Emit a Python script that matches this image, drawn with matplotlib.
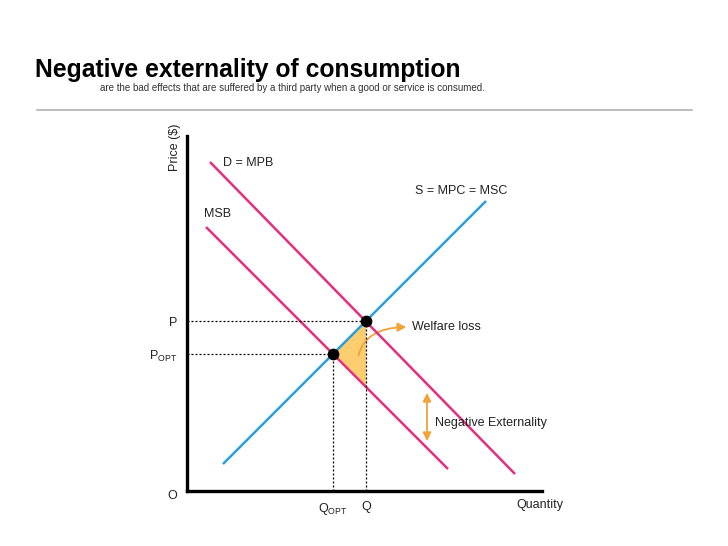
import matplotlib.pyplot as plt
from matplotlib.patches import FancyArrowPatch

# curves (quantity, price in arbitrary units)
supply_q = [36, 299]
supply_p = [27, 290]
msb_q = [19, 261]
msb_p = [264, 22]
mpb_q = [23, 328]
mpb_p = [329, 17]

q_opt, p_opt = 146, 137
q_mkt, p_mkt = 179, 170
loss_q = [146, 179, 179]
loss_p = [137, 170, 104]

W, H = 728, 546
PINK = '#e2307e'
BLUE = '#2b9fdc'
ORANGE = '#f2a33a'
FILL = '#fdcd70'
TXT = '#222222'

plt.rcParams['font.family'] = ['Liberation Sans', 'DejaVu Sans']

fig = plt.figure(figsize=(W / 100, H / 100), dpi=100)


def fx(px):
    return px / W


def fy(py):
    return 1 - py / H


# header
fig.text(fx(35), fy(77), 'Negative externality of consumption', fontsize=17.8,
         fontweight='bold', va='baseline', ha='left')
fig.text(fx(100), fy(88), 'are the bad effects that are suffered by a third party '
         'when a good or service is consumed.', fontsize=7, color='#333333',
         va='center', ha='left')
fig.add_artist(plt.Line2D([fx(37), fx(692)], [fy(110), fy(110)],
                          color='#aaaaaa', lw=1.1))

ax = fig.add_axes([fx(187), fy(491), fx(542) - fx(187), fy(136) - fy(491)])
ax.set_xlim(0, 355)
ax.set_ylim(0, 355)
for s in ['top', 'right']:
    ax.spines[s].set_visible(False)
for s in ['left', 'bottom']:
    ax.spines[s].set_linewidth(2.4)

ax.plot(supply_q, supply_p, color=BLUE, lw=1.8, solid_capstyle='butt')
ax.plot(msb_q, msb_p, color=PINK, lw=1.8, solid_capstyle='butt')
ax.plot(mpb_q, mpb_p, color=PINK, lw=1.8, solid_capstyle='butt')
ax.fill(loss_q, loss_p, color=FILL, lw=0, zorder=1)

dots = dict(color='black', lw=0.9, ls=(0, (1.6, 1.6)))
ax.plot([0, q_mkt], [p_mkt, p_mkt], **dots)
ax.plot([0, q_opt], [p_opt, p_opt], **dots)
ax.plot([q_mkt, q_mkt], [0, p_mkt], **dots)
ax.plot([q_opt, q_opt], [0, p_opt], **dots)
ax.scatter([q_opt, q_mkt], [p_opt, p_mkt], s=55, color='black', zorder=5)

ax.set_xticks([q_opt, q_mkt], [r'Q$_{\mathregular{OPT}}$', 'Q'])
ax.set_yticks([p_opt, p_mkt], [r'P$_{\mathregular{OPT}}$', 'P'])
ax.tick_params(length=0, labelsize=9, colors=TXT)
ax.tick_params(axis='x', pad=7)
ax.tick_params(axis='y', pad=7)

ax.add_patch(FancyArrowPatch((171, 133), (222, 164),
                             connectionstyle='angle3,angleA=80,angleB=0',
                             arrowstyle='-|>,head_length=5,head_width=2.6',
                             color=ORANGE, lw=1.3))
ax.add_patch(FancyArrowPatch((240, 101), (240, 47),
                             arrowstyle='<|-|>,head_length=5,head_width=2.4',
                             color=ORANGE, lw=1.3))

ax.text(225, 164, 'Welfare loss', fontsize=9, va='center', ha='left', color=TXT)
ax.text(248, 68, 'Negative Externality', fontsize=9, va='center', ha='left', color=TXT)
ax.text(36, 328, 'D = MPB', fontsize=9, va='center', ha='left', color=TXT)
ax.text(17, 277, 'MSB', fontsize=9, va='center', ha='left', color=TXT)
ax.text(228, 300, 'S = MPC = MSC', fontsize=9, va='center', ha='left', color=TXT)

fig.text(fx(172), fy(496), 'O', fontsize=9, va='center', ha='center', color=TXT)
fig.text(fx(516), fy(505), 'Quantity', fontsize=9, va='center', ha='left', color=TXT)
fig.text(fx(175), fy(147), 'Price ($)', fontsize=9, rotation=90, va='center',
         ha='center', color=TXT)

fig.savefig('out.png', dpi=100)
